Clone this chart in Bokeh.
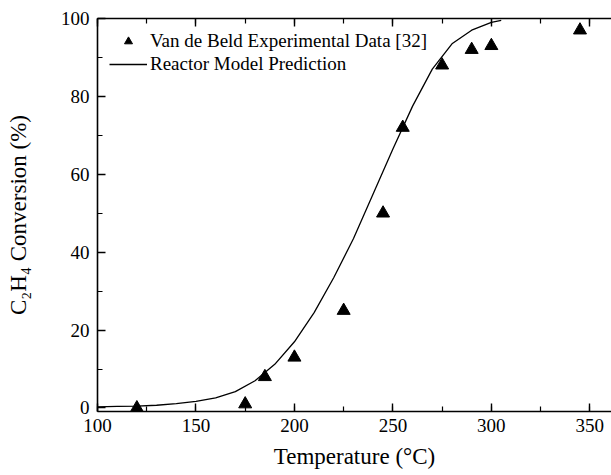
from bokeh.plotting import figure
from bokeh.models import (Range1d, SingleIntervalTicker, LinearAxis, Legend, LegendItem,
                          CustomJSTickFormatter)
from bokeh.embed import file_html
from bokeh.resources import INLINE

# Experimental data (Van de Beld)
exp_temp = [120, 175, 185, 200, 225, 245, 255, 275, 290, 300, 345]
exp_conv = [0.0, 1.0, 8.0, 13.0, 25.0, 50.0, 72.0, 88.0, 92.0, 93.0, 97.0]

# Reactor model prediction curve
model_temp = [100, 110, 120, 130, 140, 150, 160, 170, 180, 190, 200, 210, 220,
              230, 240, 250, 260, 270, 280, 290, 300, 305]
model_conv = [0.3, 0.4, 0.5, 0.7, 1.1, 1.7, 2.6, 4.2, 7.0, 11.2, 17.0, 24.5, 33.5,
              43.5, 55.0, 66.5, 77.5, 87.0, 93.5, 97.0, 99.0, 99.5]

x_label = "Temperature (°C)"
y_label = "C₂H₄ Conversion (%)"
legend_exp = "Van de Beld Experimental Data [32]"
legend_model = "Reactor Model Prediction"

FONT = "Liberation Serif"

p = figure(width=611, height=475, output_backend="svg", toolbar_location=None,
           x_range=Range1d(100, 361), y_range=Range1d(-0.9, 100),
           min_border_left=97, min_border_top=18, min_border_right=0, min_border_bottom=64)
p.outline_line_color = None
p.xgrid.visible = False
p.ygrid.visible = False
p.background_fill_color = "white"
p.border_fill_color = "white"

r_line = p.line(model_temp, model_conv, line_color="black", line_width=1.3)
r_pts = p.scatter(exp_temp, exp_conv, marker="triangle", size=13,
                  fill_color="black", line_color="black")

xt = SingleIntervalTicker(interval=50, num_minor_ticks=2)
yt = SingleIntervalTicker(interval=20, num_minor_ticks=2)

for ax in p.xaxis:
    ax.ticker = xt
    ax.axis_label = x_label
for ax in p.yaxis:
    ax.ticker = yt
    ax.axis_label = y_label

for ax in list(p.xaxis) + list(p.yaxis):
    ax.axis_line_width = 1.6
    ax.axis_line_color = "black"
    ax.major_tick_in = 8
    ax.major_tick_out = 0
    ax.minor_tick_in = 5
    ax.minor_tick_out = 0
    ax.major_tick_line_width = 1.4
    ax.minor_tick_line_width = 1.2
    ax.major_tick_line_color = "black"
    ax.minor_tick_line_color = "black"
    ax.major_label_text_font = FONT
    ax.major_label_text_font_size = "19px"
    ax.major_label_text_color = "black"
    ax.axis_label_text_font = FONT
    ax.axis_label_text_font_style = "normal"
    ax.axis_label_text_color = "black"
    ax.axis_label_text_font_size = "23px"

p.xaxis.major_label_standoff = 7
p.xaxis.axis_label_standoff = 9
p.yaxis.major_label_standoff = 8
p.yaxis.axis_label_standoff = 27

top = LinearAxis(ticker=SingleIntervalTicker(interval=50, num_minor_ticks=2),
                 formatter=CustomJSTickFormatter(code="return ''"),
                 major_tick_in=8, major_tick_out=0, minor_tick_in=5, minor_tick_out=0,
                 axis_line_width=1.6, major_tick_line_width=1.4, minor_tick_line_width=1.2,
                 major_label_standoff=0)
p.add_layout(top, "above")

legend = Legend(items=[LegendItem(label=legend_exp, renderers=[r_pts]),
                       LegendItem(label=legend_model, renderers=[r_line])],
                location="top_left", margin=12, padding=0, spacing=1,
                glyph_width=38, glyph_height=20, label_standoff=3,
                border_line_color=None, background_fill_alpha=0,
                label_text_font=FONT, label_text_font_size="19px", label_text_color="black")
p.add_layout(legend)

open("out.html", "w").write(file_html(p, INLINE))
